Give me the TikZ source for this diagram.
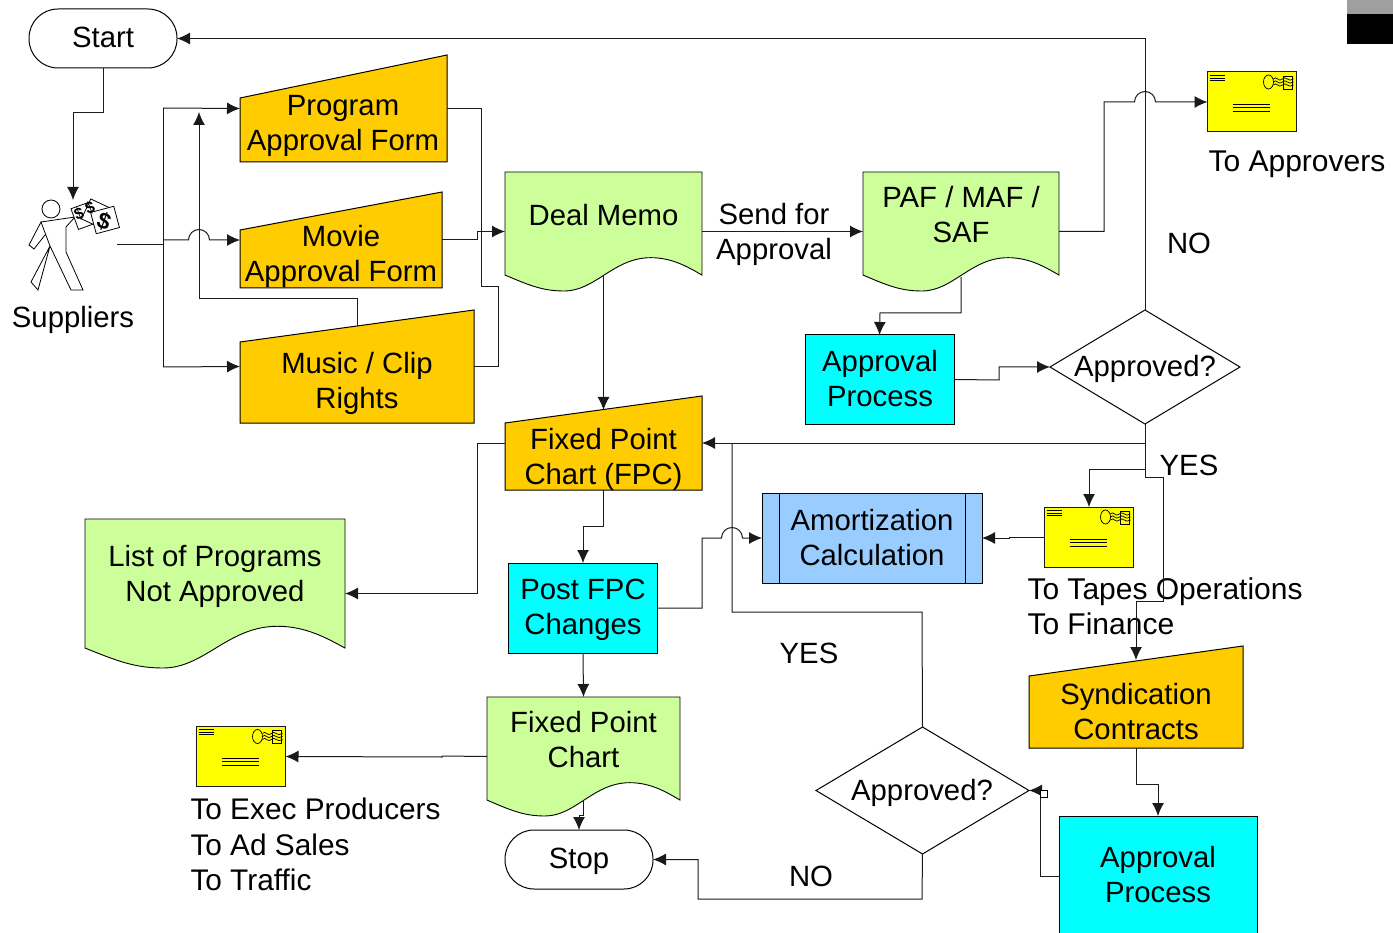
\documentclass[tikz,border=0pt]{standalone}
\usepackage{fontspec}
\setmainfont{Liberation Sans}
\usetikzlibrary{arrows.meta, shapes.geometric}
\definecolor{formfill}{HTML}{FFCC00}
\definecolor{docfill}{HTML}{CCFF99}
\definecolor{procfill}{HTML}{00FFFF}
\definecolor{calcfill}{HTML}{99CCFF}
\definecolor{mailfill}{HTML}{FFFF00}
\definecolor{linegrey}{HTML}{1A1A1A}

\begin{document}
\begin{tikzpicture}[x=1pt, y=-1pt, line width=1pt,
slot/.style={inner sep=0, outer sep=0},
lbl/.style={inner sep=0, align=center, font=\fontsize{29.3}{35}\selectfont},
maillbl/.style={inner sep=0, align=left, anchor=west, font=\fontsize{30}{35.5}\selectfont},
flow/.style={draw=linegrey, -{Latex[length=13pt, width=12pt]}},
wire/.style={draw=linegrey},
bill/.style={draw, fill=white, line width=0.8pt, inner sep=0, minimum width=24pt, minimum height=22pt},
buck/.style={inner sep=0, font=\fontsize{16}{16}\bfseries\selectfont},
envbox/.style={draw=linegrey, fill=mailfill, inner sep=0, outer sep=0, minimum width=89pt, minimum height=60pt}]
\useasboundingbox (0,0) rectangle (1393,933);
% name, centre x, centre y, width, height
\def\docshape#1#2#3#4#5{
  \node[slot, minimum width=#4pt, minimum height=#5pt] (#1) at (#2,#3) {};
  \begin{scope}[shift={(#1.north west)}, xscale=#4, yscale=#5]
  \draw[fill=docfill, line width=0.9pt] (0,0) -- (0,.866) .. controls (.12,.95) and (.19,1) .. (.3,1)
    .. controls (.46,1) and (.55,.72) .. (.74,.72) .. controls (.85,.72) and (.93,.8) .. (1,.866) -- (1,0) -- cycle;
  \end{scope}}
% name, centre x, centre y, width, height, drop of the left top corner
\def\formshape#1#2#3#4#5#6{
  \node[slot, minimum width=#4pt, minimum height=#5pt] (#1) at (#2,#3) {};
  \draw[fill=formfill] (#1.south west) -- ([yshift=-#6pt]#1.north west) -- (#1.north east) -- (#1.south east) -- cycle;}
\def\envelope#1#2#3{
  \node[envbox] (#1) at (#2,#3) {};
  \begin{scope}[shift={(#1.north west)}, line width=0.7pt]
  \foreach \ly in {3,6,8} \draw (2,\ly) -- (17,\ly);
  \foreach \ly in {32,35,39} \draw (25,\ly) -- (62,\ly);
  \draw (61,10) ellipse (5 and 7);
  \draw (76,4) rectangle (85,17);
  \foreach \ly in {7,10,13} \draw (66,\ly) .. controls (69,\ly-4) and (71,\ly+4) .. (75,\ly) .. controls (78,\ly-4) and (81,\ly+4) .. (86,\ly);
  \end{scope}}

%forms
\formshape{program}{343.5}{108.5}{207}{107}{43}
\formshape{movie}{341}{240}{202}{96}{38}
\formshape{music}{357}{366.5}{234}{113}{32}
\formshape{fpc}{603.5}{443}{197}{94}{27}
\formshape{syndication}{1136}{697}{214}{102}{30}
\node[lbl] (programtext) at (343,125.5) {Program\\Approval Form};
\node[lbl] (movietext) at (341,256) {Movie\\Approval Form};
\node[lbl] (musictext) at (357,383) {Music / Clip\\Rights};
\node[lbl] (fpctext) at (603.5,459) {Fixed Point\\Chart (FPC)};
\node[lbl] (syndicationtext) at (1136,711.5) {Syndication\\Contracts};

%documents
\docshape{deal}{603.5}{231.5}{197}{119}
\docshape{paf}{961}{231.5}{196}{119}
\docshape{notapproved}{215}{593.5}{260}{149}
\docshape{fixedchart}{583.5}{756.5}{193}{119}
\node[lbl] (dealtext) at (603.5,215) {Deal Memo};
\node[lbl] (paftext) at (961,215) {PAF / MAF /\\SAF};
\node[lbl] (notapprovedtext) at (215,576) {List of Programs\\Not Approved};
\node[lbl] (fixedcharttext) at (583.5,740) {Fixed Point\\Chart};

%processes
\node[slot, draw, fill=procfill, minimum width=149pt, minimum height=89pt] (approval) at (879.5,379.5) {};
\node[slot, draw, fill=procfill, minimum width=149pt, minimum height=90pt] (postfpc) at (583,608) {};
\node[slot, draw, fill=procfill, minimum width=198pt, minimum height=120pt] (approvalb) at (1158,876) {};
\node[slot, draw, fill=calcfill, minimum width=220pt, minimum height=90pt] (amort) at (872,538) {};
\draw ([xshift=17pt]amort.north west) -- ([xshift=17pt]amort.south west);
\draw ([xshift=-17pt]amort.north east) -- ([xshift=-17pt]amort.south east);
\node[lbl] (approvaltext) at (880,379) {Approval\\Process};
\node[lbl] (postfpctext) at (583,610) {Post FPC\\Changes};
\node[lbl] (approvalbtext) at (1158,875) {Approval\\Process};
\node[lbl] (amorttext) at (872,537.5) {Amortization\\Calculation};

%decisions and terminators
\node[slot, draw, diamond, aspect=1.67, fill=white, minimum width=190pt, minimum height=114pt] (decision) at (1145,367) {};
\node[slot, draw, diamond, aspect=1.67, fill=white, minimum width=213pt, minimum height=127pt] (decisionb) at (922.5,790.5) {};
\node[lbl] (decisiontext) at (1145,369) {Approved?};
\node[lbl] (decisionbtext) at (922,793) {Approved?};
\node[slot, draw, rounded corners=29pt, fill=white, minimum width=148pt, minimum height=59pt] (start) at (103,38.5) {};
\node[slot, draw, rounded corners=29pt, fill=white, minimum width=148pt, minimum height=59pt] (stop) at (579,859.5) {};
\node[lbl] (starttext) at (103,37) {Start};
\node[lbl] (stoptext) at (579,861) {Stop};

%mail
\envelope{mailapprovers}{1252}{102}
\envelope{mailtapes}{1089}{537}
\envelope{mailexec}{241}{756.5}
\node[lbl, font=\fontsize{30}{35}\selectfont] (approverstext) at (1297,164) {To Approvers};
\node[maillbl] (tapestext) at (1027,606.5) {To Tapes Operations\\To Finance};
\node[maillbl, font=\fontsize{29.8}{35.5}\selectfont] (exectext) at (190,844.5) {To Exec Producers\\To Ad Sales\\To Traffic};

%suppliers
\node[slot, minimum width=88pt, minimum height=90pt] (suppliers) at (73,245) {};
\draw[line width=0.8pt] (51,209) circle (9);
\draw[line width=0.8pt] (41,222) -- (75,217) -- (66,227) -- (66,252) -- (83,290) -- (71,290) -- (50,246) -- (38,290) -- (31,282) -- (50,246) -- (41,222) -- (29,245) -- (34,249) -- (45,235);
\node[bill, rotate=20] (billa) at (86,215) {};
\node[bill, rotate=-25] (billb) at (97,214) {};
\node[bill, rotate=15] (billc) at (105,220) {};
\node[buck, rotate=20] (bucka) at (79,214) {\$};
\node[buck, rotate=20] (buckb) at (90,208) {\$};
\node[buck, rotate=-20, font=\fontsize{23}{23}\bfseries\selectfont] (buckc) at (104,221) {\$};
\node[lbl] (supplierstext) at (73,320) {Suppliers};

%labels
\node[lbl] (sendtext) at (774,234) {Send for\\Approval};
\node[lbl] (notextup) at (1189,243) {NO};
\node[lbl] (yestextup) at (1189,465.5) {YES};
\node[lbl] (yestextdown) at (809,653.5) {YES};
\node[lbl] (notextdown) at (811,876.5) {NO};

%connectors
\coordinate (trunk) at (163,240);
\draw[flow] (start.south) -- (103,113) -- (73,113) -- (suppliers.north);
\draw[wire] (suppliers.east) -- (163,245);
\draw[wire] (163,108) -- (163,367);
\draw[flow] (163,108) -- (program.west);
\draw[flow] (163,367) -- (music.west);
\draw[flow] (trunk) -- (188.5,240) arc[start angle=180, end angle=0, radius=10.5pt] -- (movie.west);
\draw[flow] ([yshift=-16pt]music.north) -- (357,299) -- (199,299) -- (199,112);
\draw[wire] (program.east) -- (481,108.5) -- (481,287) -- (498,287) -- (498,366.5) -- (music.east);
\draw[flow] (movie.east) -- (477,240) -- (477,231.5) -- (deal.west);
\draw[flow] (deal.east) -- (paf.west);
\draw[flow] ([yshift=16pt]deal.south) -- ([yshift=-14pt]fpc.north);
\draw[flow] (paf.east) -- (1104,231.5) -- (1104,102) -- (1134.5,102) arc[start angle=180, end angle=0, radius=10.5pt] -- (mailapprovers.west);
\draw[flow] ([yshift=14pt]paf.south) -- (961,313) -- (880,313) -- (approval.north);
\draw[flow] (approval.east) -- (999,380) -- (999,367) -- (decision.west);
\draw[flow] (decision.north) -- (1145,38.5) -- (start.east);
\draw[flow] (decision.south) -- (1145,443) -- (fpc.east);
\draw[flow] (1145,443) -- (1145,469) -- (1089,469) -- (mailtapes.north);
\draw[flow] (1145,469) -- (1145,477) -- (1163,477) -- (1163,601) -- (1136,601) -- ([yshift=-14pt]syndication.north);
\draw[flow] (mailtapes.west) -- (1009,537) -- (1009,538) -- (amort.east);
\draw[flow] (fpc.west) -- (477,443) -- (477,593.5) -- (notapproved.east);
\draw[flow] (fpc.south) -- (603.5,526) -- (583,526) -- (postfpc.north);
\draw[flow] (postfpc.east) -- (702,608) -- (702,538) -- (721.5,538) arc[start angle=180, end angle=0, radius=10.5pt] -- (amort.west);
\draw[flow] (postfpc.south) -- (fixedchart.north);
\draw[wire] (decisionb.north) -- (922,612) -- (732,612) -- (732,443);
\draw[flow] ([yshift=16pt]fixedchart.south) -- (583.5,815) -- (579,815) -- (stop.north);
\draw[flow] (fixedchart.west) -- (442,756) -- (442,757) -- (mailexec.east);
\draw[flow] (decisionb.south) -- (922,899) -- (698,899) -- (698,859.5) -- (stop.east);
\draw[flow] (syndication.south) -- (1136,784) -- (1158,784) -- (approvalb.north);
\draw[flow] (approvalb.west) -- (1040,876) -- (1040,790.5) -- (decisionb.east);
\node[slot, draw, fill=white, minimum width=7pt, minimum height=7pt, line width=0.7pt] (handle) at (1043.5,793.5) {};

%corner block
\fill[gray!75] (1347,0) rectangle (1393,14);
\fill[black] (1347,14) rectangle (1393,44);
\end{tikzpicture}
\end{document}
